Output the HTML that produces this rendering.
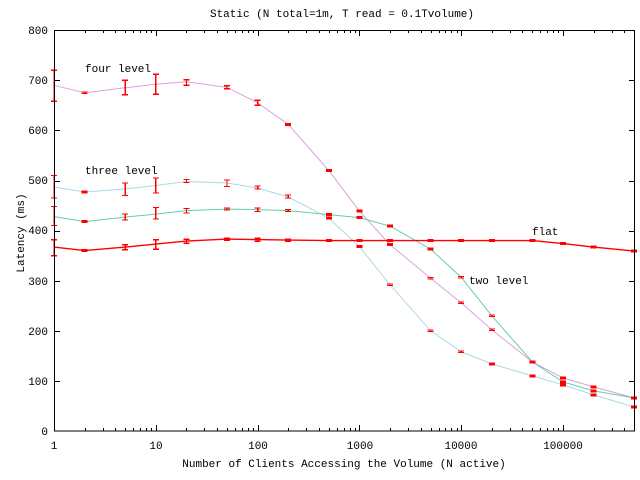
<!DOCTYPE html>
<html><head><meta charset="utf-8"><style>
html,body{margin:0;padding:0;background:#fff;}
svg{display:block;}
text{font-family:"Liberation Mono","DejaVu Sans Mono",monospace;font-size:11px;fill:#000;}
</style></head><body>
<svg id="s" width="640" height="480" viewBox="0 0 640 480" xmlns="http://www.w3.org/2000/svg">
<rect width="640" height="480" fill="#fff"/>
<g id="ticks" stroke="#000" stroke-width="1" shape-rendering="crispEdges"></g>
<g id="series" fill="none" stroke-width="1"></g>
<g id="err" stroke="#f00" stroke-width="1.3" shape-rendering="crispEdges"></g>
<rect x="54.5" y="30.5" width="580" height="400.5" fill="none" stroke="#000" stroke-width="1" shape-rendering="crispEdges"/>
<text x="342" y="17" text-anchor="middle">Static (N total=1m, T read = 0.1Tvolume)</text>
<text x="344" y="467" text-anchor="middle">Number of Clients Accessing the Volume (N active)</text>
<text transform="translate(24,233) rotate(-90)" text-anchor="middle">Latency (ms)</text>
<text x="85" y="72">four level</text>
<text x="85" y="174">three level</text>
<text x="532" y="235">flat</text>
<text x="469" y="284">two level</text>
<g text-anchor="end">
<text x="48" y="34">800</text><text x="48" y="84">700</text><text x="48" y="134">600</text>
<text x="48" y="184">500</text><text x="48" y="234">400</text><text x="48" y="285">300</text>
<text x="48" y="335">200</text><text x="48" y="385">100</text><text x="48" y="435">0</text>
</g>
<g text-anchor="middle">
<text x="54" y="449">1</text><text x="156" y="449">10</text><text x="258" y="449">100</text>
<text x="360" y="449">1000</text><text x="461" y="449">10000</text><text x="563" y="449">100000</text>
</g>
</svg>
<script>
var NS="http://www.w3.org/2000/svg";
function px(x){return 54+101.8*Math.log10(x);}
function py(v){return 431-0.501*v;}
function el(p,t,a){var e=document.createElementNS(NS,t);for(var k in a)e.setAttribute(k,a[k]);document.getElementById(p).appendChild(e);}
// ticks
for(var v=100;v<800;v+=100){var y=Math.round(py(v))+0.5;el('ticks','line',{x1:54,y1:y,x2:60,y2:y});el('ticks','line',{x1:629,y1:y,x2:635,y2:y});}
for(var d=0;d<6;d++){for(var m=1;m<10;m++){var xv=Math.pow(10,d)*m;if(xv>500000)break;var x=Math.round(px(xv))+0.5;var L=m==1?6:3;if(d==0&&m==1)continue;
el('ticks','line',{x1:x,y1:431,x2:x,y2:431-L});el('ticks','line',{x1:x,y1:30,x2:x,y2:30+L});}}
var X=[1,2,5,10,20,50,100,200,500,1000,2000,5000,10000,20000,50000,100000,200000,500000];
var S=[
{c:"#dda0dd",d:[690,675,685,692,697,686,655,612,520,439,372,305,256,202,138,106,88,66],
 e:{0:[658,720],2:[671,700],3:[672,712],4:[690,701],5:[683,689],6:[650,660]}},
{c:"#add8e6",d:[487,477,483,490,498,495,485,467,425,368,292,200,158,134,110,92,72,48],
 e:{0:[465,510],2:[470,495],3:[475,505],4:[496,502],5:[488,501],6:[483,489],7:[465,471]}},
{c:"#66cdaa",d:[428,418,427,433,440,443,442,440,432,426,409,363,307,230,138,98,80,66],
 e:{0:[410,448],2:[421,433],3:[423,446],4:[435,444],5:[441,445],6:[438,445],7:[438,442]}},
{c:"#ff0000",d:[367,360,367,373,379,383,382,381,380,380,380,380,380,380,380,374,367,359],
 e:{0:[350,382],2:[362,372],3:[363,382],4:[375,383],5:[381,385],6:[379,385],7:[379,383]}}
];
S.forEach(function(s){
 var pts=X.map(function(x,i){return px(x).toFixed(1)+","+py(s.d[i]).toFixed(1);}).join(" ");
 el('series','polyline',{points:pts,stroke:s.c,"stroke-width":s.c=="#ff0000"?1.4:1});
 X.forEach(function(x,i){var r=s.e[i]||[s.d[i]-1.5,s.d[i]+1.5];var xx=px(x);var y1=py(r[0]),y2=py(r[1]);
  el('err','line',{x1:xx,y1:y1,x2:xx,y2:y2});
  el('err','line',{x1:xx-3,y1:y1,x2:xx+3,y2:y1});
  el('err','line',{x1:xx-3,y1:y2,x2:xx+3,y2:y2});});
});
</script>
</body></html>
